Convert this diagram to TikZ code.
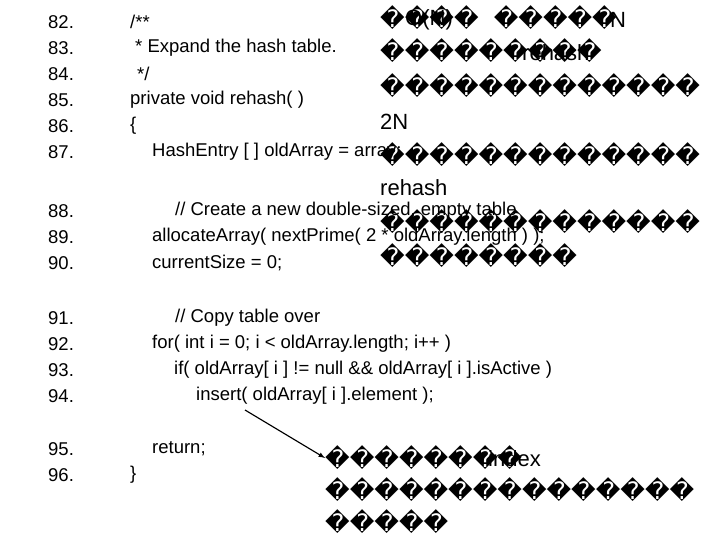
\documentclass[tikz,border=0pt]{standalone}
\usepackage{fontspec}
\setmainfont{Liberation Sans}
\newfontfamily\boxfont{DejaVu Sans}
\begin{document}
\begin{tikzpicture}[x=1bp,y=-1bp,
 code/.style={anchor=west,inner sep=0pt,font=\fontsize{18.5bp}{20bp}\selectfont},
 big/.style={anchor=west,inner sep=0pt,font=\fontsize{22bp}{24bp}\selectfont},
 bx/.style={anchor=west,inner sep=0pt,font=\boxfont\fontsize{24bp}{26bp}\selectfont}]
\useasboundingbox (0,0) rectangle (720,540);
\clip (0,0) rectangle (720,540);
\foreach \n/\y in {82/22,83/48,84/74,85/100,86/126,87/152,88/211,89/237,90/263,91/318,92/344,93/370,94/396,95/449,96/475}
  \node[code] (n\n) at (48,\y) {\n.};
\node[code] (c82) at (130,22) {/**};
\node[code] (c83) at (135,48) {* Expand the hash table.};
\node[code] (c84) at (137,74) {*/};
\node[code] (c85) at (130,100) {private void rehash( )};
\node[code] (c86) at (130,126) {\{};
\node[code] (c87) at (152,152) {HashEntry [ ] oldArray = array;};
\node[code] (c88) at (175,211) {// Create a new double-sized, empty table};
\node[code] (c89) at (152,237) {allocateArray( nextPrime( 2 * oldArray.length ) );};
\node[code] (c90) at (152,263) {currentSize = 0;};
\node[code] (c91) at (175,318) {// Copy table over};
\node[code] (c92) at (152,344) {for( int i = 0; i < oldArray.length; i++ )};
\node[code] (c93) at (174,370) {if( oldArray[ i ] != null \&\& oldArray[ i ].isActive )};
\node[code] (c94) at (196,396) {insert( oldArray[ i ].element );};
\node[code] (c95) at (152,449) {return;};
\node[code] (c96) at (130,475) {\}};
% right annotations
\node[bx] (r1) at (380,18) {����~~�����};
\node[big] (r1a) at (405,20) {O(N)};
\node[big] (r1b) at (610,20) {N};
\node[bx] (r2) at (380,51) {���������};
\node[big] (r2a) at (522,53) {rehash};
\node[bx] (r3) at (380,86) {�������������};
\node[big] (r4) at (380,122) {2N};
\node[bx] (r5) at (380,155) {�������������};
\node[big] (r6) at (380,188) {rehash};
\node[bx] (r7) at (380,222) {�������������};
\node[bx] (r8) at (380,256) {��������};
\node[bx] (b1) at (325,458) {��������};
\node[big] (b1a) at (488,459) {index};
\node[bx] (b2) at (325,490) {���������������};
\node[bx] (b3) at (325,522) {�����};
\coordinate (as) at (245,410);
\draw[-latex,line width=1.2pt] (as) -- (b1.west);
\end{tikzpicture}
\end{document}
